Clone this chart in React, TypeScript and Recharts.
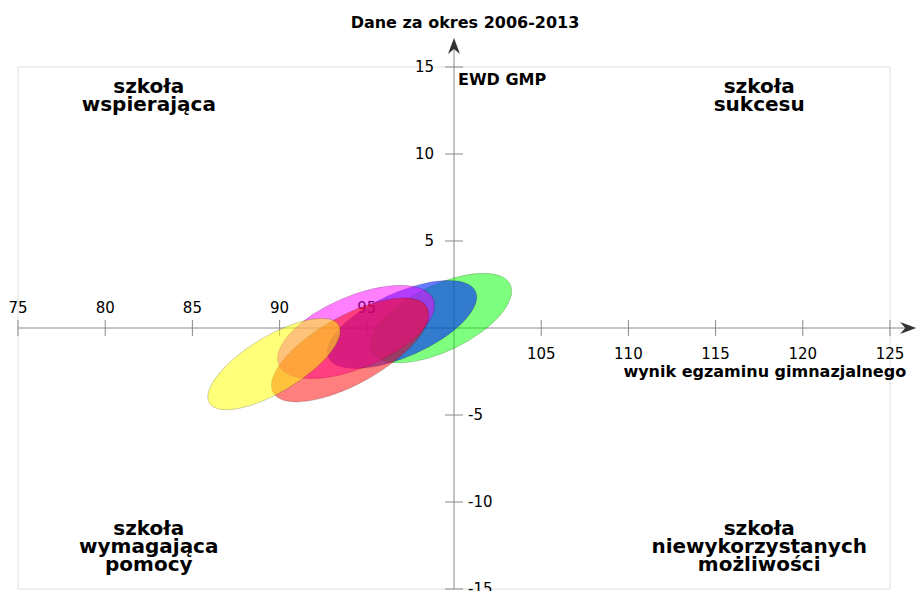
import React from 'react';
import {
  ScatterChart,
  Scatter,
  XAxis,
  YAxis,
  CartesianGrid,
  ReferenceLine,
  ReferenceDot,
} from 'recharts';

// axis ticks
const X_TICKS = [75, 80, 85, 90, 95, 100, 105, 110, 115, 120, 125];
const Y_TICKS = [-15, -10, -5, 0, 5, 10, 15];
const X_TICK_LABELS = [75, 80, 85, 90, 95, 105, 110, 115, 120, 125];
const Y_TICK_LABELS = [15, 10, 5, -5, -10, -15];

// ellipses: centre, end of the long axis, end of the short axis (bottom to top)
const ELLIPSE_KEYS = ['green', 'blue', 'magenta', 'red', 'yellow'];
const CENTER_X = [99.25, 97.02, 94.38, 94.04, 89.68];
const CENTER_Y = [0.57, 0.2, -0.23, -1.26, -2.07];
const MAJOR_X = [103.22, 101.24, 98.81, 98.45, 93.39];
const MAJOR_Y = [2.51, 2.09, 1.66, 1.19, 0.17];
const MINOR_X = [100.09, 97.76, 95.19, 94.98, 90.5];
const MINOR_Y = [-1.13, -1.48, -2.13, -2.97, -3.45];

// quadrant captions
const QUAD_X = [82.5, 117.5, 82.5, 117.5];
const QUAD_Y = [13.5, 13.5, -11.9, -11.9];
const QUAD_TEXT = [
  ['szkoła', 'wspierająca'],
  ['szkoła', 'sukcesu'],
  ['szkoła', 'wymagająca', 'pomocy'],
  ['szkoła', 'niewykorzystanych', 'możliwości'],
];

const TITLE = 'Dane za okres 2006-2013';
const Y_NAME = 'EWD GMP';
const X_NAME = 'wynik egzaminu gimnazjalnego';

const COLORS: Record<string, string> = {
  green: '#00ff00',
  blue: '#0023ff',
  magenta: '#ff00ff',
  red: '#ff0000',
  yellow: '#ffff00',
};
const OPACITY: Record<string, number> = {
  green: 0.5,
  blue: 0.6,
  magenta: 0.5,
  red: 0.5,
  yellow: 0.52,
};

const AXIS_COLOR = '#8a8a8a';
const ARROW_COLOR = '#333333';

const ellipseData = (i: number) => [
  { x: CENTER_X[i], y: CENTER_Y[i] },
  { x: MAJOR_X[i], y: MAJOR_Y[i] },
  { x: MINOR_X[i], y: MINOR_Y[i] },
];

// the scatter "line" gets the three points in pixels -> affine map of a unit circle
const renderEllipse = (color: string, opacity: number) => (props: any) => {
  const pts = props.points;
  if (!pts || pts.length < 3) return <g />;
  const [c, m, n] = pts;
  const t = `matrix(${m.x - c.x} ${m.y - c.y} ${n.x - c.x} ${n.y - c.y} ${c.x} ${c.y})`;
  return (
    <ellipse
      cx={0}
      cy={0}
      rx={1}
      ry={1}
      transform={t}
      fill={color}
      fillOpacity={opacity}
      stroke="#000"
      strokeOpacity={0.18}
      strokeWidth={1}
      vectorEffect="non-scaling-stroke"
    />
  );
};

const XAxisShape = (p: any) => (
  <g>
    <line x1={p.x1} y1={p.y1} x2={p.x2 - 10} y2={p.y2} stroke={AXIS_COLOR} strokeWidth={1} />
    <path
      d={`M${p.x2},${p.y2} L${p.x2 - 16},${p.y2 - 6} L${p.x2 - 11},${p.y2} L${p.x2 - 16},${p.y2 + 6} Z`}
      fill={ARROW_COLOR}
    />
    <text x={p.x2 - 10} y={p.y2 + 49} textAnchor="end" fontSize={16} fontWeight="bold" fill="#000">
      {X_NAME}
    </text>
  </g>
);

const YAxisShape = (p: any) => (
  <g>
    <line x1={p.x1} y1={p.y1} x2={p.x2} y2={p.y2 + 10} stroke={AXIS_COLOR} strokeWidth={1} />
    <path
      d={`M${p.x2},${p.y2} L${p.x2 - 6},${p.y2 + 16} L${p.x2},${p.y2 + 11} L${p.x2 + 6},${p.y2 + 16} Z`}
      fill={ARROW_COLOR}
    />
    <text x={p.x2 + 11} y={p.y2 - 10} textAnchor="middle" fontSize={16} fontWeight="bold" fill="#000">
      {TITLE}
    </text>
    <text x={p.x2 + 4} y={p.y2 + 47} fontSize={16} fontWeight="bold" fill="#000">
      {Y_NAME}
    </text>
  </g>
);

export default function App() {
  return (
    <div
      style={{
        position: 'absolute',
        left: 0,
        top: 0,
        width: 918,
        height: 591,
        background: '#fff',
        fontFamily: '"DejaVu Sans", sans-serif',
      }}
    >
      <ScatterChart width={918} height={591} margin={{ top: 67, right: 28, bottom: 2, left: 18 }}>
        <CartesianGrid stroke="#dfdfdf" />
        <XAxis
          type="number"
          dataKey="x"
          domain={[75, 125]}
          ticks={X_TICKS}
          tick={false}
          axisLine={false}
          tickLine={false}
          height={0}
          allowDataOverflow
        />
        <YAxis
          type="number"
          dataKey="y"
          domain={[-15, 15]}
          ticks={Y_TICKS}
          tick={false}
          axisLine={false}
          tickLine={false}
          width={0}
          allowDataOverflow
        />

        {/* axes through (100, 0) */}
        <ReferenceLine
          segment={[{ x: 75, y: 0 }, { x: 126.5, y: 0 }]}
          ifOverflow="visible"
          shape={XAxisShape}
        />
        <ReferenceLine
          segment={[{ x: 100, y: -15 }, { x: 100, y: 16.67 }]}
          ifOverflow="visible"
          shape={YAxisShape}
        />

        {X_TICK_LABELS.map(v => (
          <ReferenceDot
            key={'xt' + v}
            x={v}
            y={0}
            ifOverflow="visible"
            shape={(p: any) => (
              <g>
                <line x1={p.cx} x2={p.cx} y1={p.cy - 8} y2={p.cy + 8} stroke={AXIS_COLOR} />
                <text
                  x={p.cx}
                  y={v < 100 ? p.cy - 15 : p.cy + 31}
                  textAnchor="middle"
                  fontSize={15}
                  fill="#000"
                >
                  {v}
                </text>
              </g>
            )}
          />
        ))}
        {Y_TICK_LABELS.map(v => (
          <ReferenceDot
            key={'yt' + v}
            x={100}
            y={v}
            ifOverflow="visible"
            shape={(p: any) => (
              <g>
                <line x1={p.cx - 9} x2={p.cx + 9} y1={p.cy} y2={p.cy} stroke={AXIS_COLOR} />
                <text
                  x={v > 0 ? p.cx - 20 : p.cx + 14}
                  y={p.cy + 5}
                  textAnchor={v > 0 ? 'end' : 'start'}
                  fontSize={15}
                  fill="#000"
                >
                  {v}
                </text>
              </g>
            )}
          />
        ))}

        {QUAD_TEXT.map((lines, i) => (
          <ReferenceDot
            key={'q' + i}
            x={QUAD_X[i]}
            y={QUAD_Y[i]}
            ifOverflow="visible"
            shape={(p: any) => (
              <text x={p.cx} y={p.cy} textAnchor="middle" fontSize={20} fontWeight="bold" fill="#000">
                {lines.map((s, j) => (
                  <tspan key={j} x={p.cx} dy={j === 0 ? 0 : 18}>
                    {s}
                  </tspan>
                ))}
              </text>
            )}
          />
        ))}

        {ELLIPSE_KEYS.map((k, i) => (
          <Scatter
            key={k}
            name={k}
            data={ellipseData(i)}
            line={renderEllipse(COLORS[k], OPACITY[k])}
            lineType="joint"
            shape={() => <g />}
            isAnimationActive={false}
          />
        ))}
      </ScatterChart>
    </div>
  );
}
